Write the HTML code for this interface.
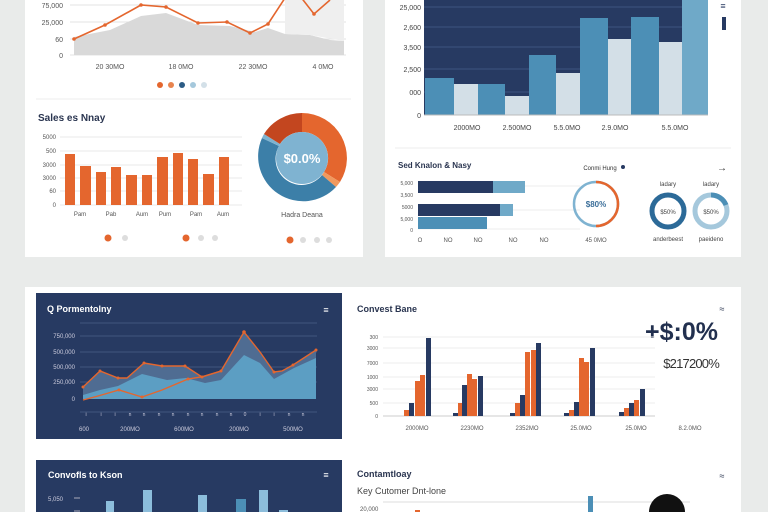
<!DOCTYPE html>
<html><head><meta charset="utf-8"><style>
html,body{margin:0;padding:0;background:#e9ebea;width:768px;height:512px;overflow:hidden;}
svg{display:block;font-family:"Liberation Sans",sans-serif;}
</style></head><body>
<svg width="768" height="512" viewBox="0 0 768 512" xmlns="http://www.w3.org/2000/svg">
<rect width="768" height="512" fill="#e9ebea"/>
<rect x="25" y="0" width="338" height="257" fill="#fff"/>
<g stroke="#e3e3e3" stroke-width="1">
<line x1="70" y1="5" x2="346" y2="5"/><line x1="70" y1="22" x2="346" y2="22"/><line x1="70" y1="39" x2="346" y2="39"/><line x1="70" y1="55" x2="346" y2="55"/>
</g>
<path d="M74,55 L74,37 L110,30 L141,16 L166,13 L198,25 L230,26 L255,32 L268,28 L285,34 L310,35 L330,40 L344,41 L344,55 Z" fill="#d9d9d9"/>
<path d="M285,0 L344,0 L344,41 L310,35 L285,34 Z" fill="#efefef"/>
<polyline points="74,39 105,25 141,5 166,7 198,23 227,22 250,33 268,24 285,-2 300,-4 314,14 330,0" fill="none" stroke="#e4662e" stroke-width="1.6"/>
<g fill="#e4662e"><circle cx="74" cy="39" r="1.8"/><circle cx="105" cy="25" r="1.8"/><circle cx="141" cy="5" r="1.8"/><circle cx="166" cy="7" r="1.8"/><circle cx="198" cy="23" r="1.8"/><circle cx="227" cy="22" r="1.8"/><circle cx="250" cy="33" r="1.8"/><circle cx="268" cy="24" r="1.8"/><circle cx="314" cy="14" r="1.8"/></g>
<g font-size="7" fill="#555" text-anchor="end"><text x="63" y="8">75,000</text><text x="63" y="25">25,000</text><text x="63" y="42">60</text><text x="63" y="58">0</text></g>
<g font-size="7" fill="#555" text-anchor="middle"><text x="110" y="69">20 30MO</text><text x="181" y="69">18 0MO</text><text x="253" y="69">22 30MO</text><text x="323" y="69">4 0MO</text></g>
<circle cx="160" cy="85" r="3" fill="#e4662e"/><circle cx="171" cy="85" r="3" fill="#e8844f"/><circle cx="182" cy="85" r="3" fill="#2c5c85"/><circle cx="193" cy="85" r="3" fill="#a5c8dc"/><circle cx="204" cy="85" r="3" fill="#d3e0e8"/>
<line x1="36" y1="99" x2="351" y2="99" stroke="#eee"/>
<text x="38" y="121" font-size="10" font-weight="bold" fill="#2a3550">Sales es Nnay</text>
<g stroke="#e8e8e8"><line x1="60" y1="137" x2="242" y2="137"/><line x1="60" y1="151" x2="242" y2="151"/><line x1="60" y1="165" x2="242" y2="165"/><line x1="60" y1="178" x2="242" y2="178"/><line x1="60" y1="191" x2="242" y2="191"/><line x1="60" y1="205" x2="242" y2="205"/></g>
<g font-size="6" fill="#555" text-anchor="end"><text x="56" y="139">5000</text><text x="56" y="153">500</text><text x="56" y="167">3000</text><text x="56" y="180">3000</text><text x="56" y="193">60</text><text x="56" y="207">0</text></g>
<g fill="#e4662e">
<rect x="65" y="154" width="10" height="51"/><rect x="80" y="166" width="11" height="39"/><rect x="96" y="172" width="10" height="33"/><rect x="111" y="167" width="10" height="38"/><rect x="126" y="175" width="11" height="30"/><rect x="142" y="175" width="10" height="30"/><rect x="157" y="157" width="11" height="48"/><rect x="173" y="153" width="10" height="52"/><rect x="188" y="159" width="10" height="46"/><rect x="203" y="174" width="11" height="31"/><rect x="219" y="157" width="10" height="48"/>
</g>
<g font-size="6" fill="#555" text-anchor="middle"><text x="80" y="216">Pam</text><text x="111" y="216">Pab</text><text x="142" y="216">Aum</text><text x="165" y="216">Pum</text><text x="196" y="216">Pam</text><text x="223" y="216">Aum</text></g>
<g transform="translate(302,158)">
<path d="M0,-45 A45,45 0 0 1 38,24 L22,14 A26,26 0 0 0 0,-26 Z" fill="#e4662e"/>
<path d="M38,24 A45,45 0 0 1 34,29 L20,17 A26,26 0 0 0 22,14 Z" fill="#f0995e"/>
<path d="M34,29 A45,45 0 0 1 -40,-20 L-23,-12 A26,26 0 0 0 20,17 Z" fill="#3c7fa8"/>
<path d="M-40,-20 A45,45 0 0 1 -38,-24 L-22,-14 A26,26 0 0 0 -23,-12 Z" fill="#7eb3d0"/>
<path d="M-38,-24 A45,45 0 0 1 0,-45 L0,-26 A26,26 0 0 0 -22,-14 Z" fill="#c3461f"/>
<circle r="26" fill="#7fb3d1"/>
<text y="5" text-anchor="middle" font-size="13" font-weight="bold" fill="#fff">$0.0%</text>
</g>
<text x="302" y="217" font-size="7" fill="#555" text-anchor="middle">Hadra Deana</text>
<circle cx="108" cy="238" r="3.5" fill="#e4662e"/><circle cx="125" cy="238" r="3" fill="#ddd"/>
<circle cx="186" cy="238" r="3.5" fill="#e4662e"/><circle cx="201" cy="238" r="3" fill="#ddd"/><circle cx="215" cy="238" r="3" fill="#ddd"/>
<circle cx="290" cy="240" r="3.5" fill="#e4662e"/><circle cx="303" cy="240" r="3" fill="#ddd"/><circle cx="317" cy="240" r="3" fill="#ddd"/><circle cx="329" cy="240" r="3" fill="#ddd"/>
<rect x="385" y="0" width="356" height="257" fill="#fff"/>
<rect x="424" y="0" width="258" height="115" fill="#273a62"/>
<g stroke="#3e5480"><line x1="424" y1="7" x2="682" y2="7"/><line x1="424" y1="27" x2="682" y2="27"/><line x1="424" y1="47" x2="682" y2="47"/><line x1="424" y1="69" x2="682" y2="69"/><line x1="424" y1="92" x2="682" y2="92"/></g>
<g fill="#4c8fb6">
<rect x="425" y="78" width="29" height="37"/><rect x="478" y="84" width="27" height="31"/><rect x="529" y="55" width="27" height="60"/><rect x="580" y="18" width="28" height="97"/><rect x="631" y="17" width="28" height="98"/></g>
<g fill="#d3dfe7"><rect x="454" y="84" width="24" height="31"/><rect x="505" y="96" width="24" height="19"/><rect x="556" y="73" width="24" height="42"/><rect x="608" y="39" width="23" height="76"/><rect x="659" y="42" width="23" height="73"/></g>
<rect x="682" y="0" width="26" height="115" fill="#6fa9c8"/>
<line x1="424" y1="115" x2="708" y2="115" stroke="#bbb"/>
<g font-size="7" fill="#444" text-anchor="end"><text x="421" y="10">25,000</text><text x="421" y="30">2,600</text><text x="421" y="50">3,500</text><text x="421" y="72">2,500</text><text x="421" y="95">000</text><text x="421" y="118">0</text></g>
<g font-size="7" fill="#444" text-anchor="middle"><text x="467" y="130">2000MO</text><text x="517" y="130">2.500MO</text><text x="567" y="130">5.5.0MO</text><text x="615" y="130">2.9.0MO</text><text x="675" y="130">5.5.0MO</text></g>
<text x="723" y="9" font-size="9" fill="#273a62" text-anchor="middle">≡</text>
<rect x="722" y="17" width="4" height="13" fill="#273a62"/>
<line x1="395" y1="148" x2="731" y2="148" stroke="#eee"/>
<text x="398" y="168" font-size="8" font-weight="bold" fill="#2a3550">Sed Knalon &amp; Nasy</text>
<g stroke="#eee"><line x1="418" y1="186" x2="580" y2="186"/><line x1="418" y1="210" x2="580" y2="210"/><line x1="418" y1="229" x2="580" y2="229"/></g>
<rect x="418" y="181" width="75" height="12" fill="#273a62"/><rect x="493" y="181" width="32" height="12" fill="#6fa9c8"/>
<rect x="418" y="204" width="82" height="12" fill="#273a62"/><rect x="500" y="204" width="13" height="12" fill="#6fa9c8"/>
<rect x="418" y="217" width="69" height="12" fill="#4c8fb6"/>
<g font-size="5" fill="#555" text-anchor="end"><text x="413" y="185">5,000</text><text x="413" y="197">3,500</text><text x="413" y="209">5000</text><text x="413" y="221">5,000</text><text x="413" y="232">0</text></g>
<g font-size="6" fill="#555" text-anchor="middle"><text x="420" y="242">O</text><text x="448" y="242">NO</text><text x="478" y="242">NO</text><text x="513" y="242">NO</text><text x="544" y="242">NO</text><text x="596" y="242">45 0MO</text></g>
<text x="600" y="170" font-size="6" fill="#333" text-anchor="middle">Conmi Hung</text><circle cx="623" cy="167" r="2" fill="#273a62"/>
<text x="722" y="171" font-size="10" fill="#333" text-anchor="middle">→</text>
<circle cx="596" cy="204" r="22" fill="none" stroke="#7fb3d1" stroke-width="2.5"/>
<path d="M596,182 A22,22 0 0 1 596,226" fill="none" stroke="#e4662e" stroke-width="2.5"/>
<text x="596" y="207" font-size="8" fill="#3c6f9a" text-anchor="middle" font-weight="bold">$80%</text>
<circle cx="668" cy="211" r="16" fill="none" stroke="#2c6a98" stroke-width="5"/>
<circle cx="711" cy="211" r="16" fill="none" stroke="#a5c8dc" stroke-width="5"/>
<path d="M711,195 A16,16 0 0 1 726,205" fill="none" stroke="#4c8fb6" stroke-width="5"/>
<g font-size="6" fill="#444" text-anchor="middle"><text x="668" y="186">ladary</text><text x="711" y="186">ladary</text><text x="668" y="214">$50%</text><text x="711" y="214">$50%</text><text x="668" y="241">anderbeest</text><text x="711" y="241">paeideno</text></g>
<rect x="25" y="287" width="716" height="225" fill="#fff"/>
<rect x="36" y="293" width="306" height="146" fill="#273a62"/>
<text x="47" y="312" font-size="9" font-weight="bold" fill="#fff">Q Pormentolny</text>
<text x="326" y="313" font-size="9" fill="#fff" text-anchor="middle">≡</text>
<g stroke="#41577f"><line x1="80" y1="323" x2="317" y2="323"/><line x1="80" y1="336" x2="317" y2="336"/><line x1="80" y1="352" x2="317" y2="352"/><line x1="80" y1="367" x2="317" y2="367"/><line x1="80" y1="382" x2="317" y2="382"/><line x1="80" y1="412" x2="317" y2="412"/></g>
<g font-size="6" fill="#ccd" text-anchor="end"><text x="75" y="338">750,000</text><text x="75" y="354">500,000</text><text x="75" y="369">500,000</text><text x="75" y="384">250,000</text><text x="75" y="401">0</text></g>
<path d="M83,399 L83,387 L100,371 L118,378 L127,378 L144,363 L162,366 L185,366 L202,377 L221,371 L244,332 L260,352 L274,372 L282,371 L293,365 L316,350 L316,399 Z" fill="#4f6c92"/>
<path d="M83,399 L83,395 L100,390 L118,386 L142,374 L167,380 L186,378 L205,383 L221,380 L244,355 L260,363 L274,379 L294,368 L316,358 L316,399 Z" fill="#5c9ec3"/>
<polyline points="83,387 100,371 118,378 127,378 144,363 162,366 185,366 202,377 221,371 244,332 260,352 274,372 282,371 293,365 316,350" fill="none" stroke="#e4662e" stroke-width="1.4"/>
<polyline points="83,400 98,396 119,390 142,397 162,390 188,379 201,377 221,371" fill="none" stroke="#e4662e" stroke-width="1.4"/>
<g fill="#e4662e"><circle cx="83" cy="387" r="1.5"/><circle cx="100" cy="371" r="1.5"/><circle cx="118" cy="378" r="1.5"/><circle cx="144" cy="363" r="1.5"/><circle cx="162" cy="366" r="1.5"/><circle cx="185" cy="366" r="1.5"/><circle cx="202" cy="377" r="1.5"/><circle cx="221" cy="371" r="1.5"/><circle cx="244" cy="332" r="1.8"/><circle cx="274" cy="372" r="1.5"/><circle cx="293" cy="365" r="1.5"/><circle cx="316" cy="350" r="1.5"/><circle cx="119" cy="390" r="1.5"/><circle cx="142" cy="397" r="1.5"/><circle cx="188" cy="379" r="1.5"/></g>
<g font-size="5" fill="#ccd" text-anchor="middle"><text x="86" y="416">i</text><text x="101" y="416">i</text><text x="115" y="416">i</text><text x="130" y="416">n</text><text x="144" y="416">n</text><text x="159" y="416">n</text><text x="173" y="416">n</text><text x="188" y="416">n</text><text x="202" y="416">n</text><text x="217" y="416">n</text><text x="231" y="416">n</text><text x="245" y="416">0</text><text x="260" y="416">i</text><text x="274" y="416">i</text><text x="289" y="416">n</text><text x="303" y="416">n</text></g>
<g font-size="6" fill="#ccd" text-anchor="middle"><text x="84" y="431">600</text><text x="130" y="431">200MO</text><text x="184" y="431">600MO</text><text x="239" y="431">200MO</text><text x="293" y="431">500MO</text></g>
<text x="357" y="312" font-size="9" font-weight="bold" fill="#2a3550">Convest Bane</text>
<text x="722" y="312" font-size="9" fill="#2a3550" text-anchor="middle">≈</text>
<text x="718" y="340" font-size="25" font-weight="bold" fill="#22304f" text-anchor="end">+$:0%</text>
<text x="719" y="368" font-size="13" fill="#333" text-anchor="end" letter-spacing="-0.8">$217200%</text>
<g stroke="#eee"><line x1="383" y1="337" x2="655" y2="337"/><line x1="383" y1="348" x2="655" y2="348"/><line x1="383" y1="363" x2="655" y2="363"/><line x1="383" y1="377" x2="655" y2="377"/><line x1="383" y1="389" x2="655" y2="389"/><line x1="383" y1="403" x2="655" y2="403"/></g>
<line x1="383" y1="416" x2="655" y2="416" stroke="#ccc"/>
<g font-size="5" fill="#555" text-anchor="end"><text x="378" y="339">300</text><text x="378" y="350">3000</text><text x="378" y="365">7000</text><text x="378" y="379">1000</text><text x="378" y="391">3000</text><text x="378" y="405">500</text><text x="378" y="418">0</text></g>
<g fill="#e4662e">
<rect x="404" y="410" width="5" height="6"/><rect x="415" y="381" width="5" height="35"/><rect x="420" y="375" width="5" height="41"/>
<rect x="458" y="403" width="5" height="13"/><rect x="467" y="374" width="5" height="42"/><rect x="472" y="379" width="5" height="37"/>
<rect x="515" y="403" width="5" height="13"/><rect x="525" y="352" width="5" height="64"/><rect x="531" y="350" width="5" height="66"/>
<rect x="569" y="410" width="5" height="6"/><rect x="579" y="358" width="5" height="58"/><rect x="584" y="362" width="5" height="54"/>
<rect x="624" y="408" width="5" height="8"/><rect x="634" y="400" width="5" height="16"/></g>
<g fill="#273a62">
<rect x="409" y="403" width="5" height="13"/><rect x="426" y="338" width="5" height="78"/>
<rect x="453" y="413" width="5" height="3"/><rect x="462" y="385" width="5" height="31"/><rect x="478" y="376" width="5" height="40"/>
<rect x="510" y="413" width="5" height="3"/><rect x="520" y="395" width="5" height="21"/><rect x="536" y="343" width="5" height="73"/>
<rect x="564" y="413" width="5" height="3"/><rect x="574" y="402" width="5" height="14"/><rect x="590" y="348" width="5" height="68"/>
<rect x="619" y="412" width="5" height="4"/><rect x="629" y="403" width="5" height="13"/><rect x="640" y="389" width="5" height="27"/></g>
<g font-size="6" fill="#555" text-anchor="middle"><text x="417" y="430">2000MO</text><text x="472" y="430">2230MO</text><text x="527" y="430">2352MO</text><text x="581" y="430">25.0MO</text><text x="636" y="430">25.0MO</text><text x="690" y="430">8.2.0MO</text></g>
<rect x="36" y="460" width="306" height="52" fill="#273a62"/>
<text x="48" y="478" font-size="9" font-weight="bold" fill="#fff">Convofls to Kson</text>
<text x="326" y="478" font-size="9" fill="#fff" text-anchor="middle">≡</text>
<text x="48" y="501" font-size="6" fill="#ccd">5,050</text>
<line x1="74" y1="498" x2="80" y2="498" stroke="#aab"/><line x1="74" y1="511" x2="80" y2="511" stroke="#aab"/>
<g fill="#8cbddb"><rect x="106" y="501" width="8" height="11"/><rect x="143" y="490" width="9" height="22"/><rect x="198" y="495" width="9" height="17"/><rect x="259" y="490" width="9" height="22"/><rect x="279" y="510" width="9" height="2"/></g>
<rect x="236" y="499" width="10" height="13" fill="#4c8fb6"/>
<text x="357" y="477" font-size="9" font-weight="bold" fill="#2a3550">Contamtloay</text>
<text x="722" y="479" font-size="9" fill="#2a3550" text-anchor="middle">≈</text>
<text x="357" y="494" font-size="9" fill="#444">Key Cutomer Dnt-lone</text>
<line x1="383" y1="502" x2="690" y2="502" stroke="#ddd"/>
<text x="360" y="511" font-size="6" fill="#555">20,000</text>
<rect x="415" y="510" width="5" height="2" fill="#e4662e"/>
<rect x="588" y="496" width="5" height="16" fill="#4c8fb6"/>
<path d="M649,512 A18,18 0 0 1 685,512 Z" fill="#111"/>
</svg>
</body></html>
